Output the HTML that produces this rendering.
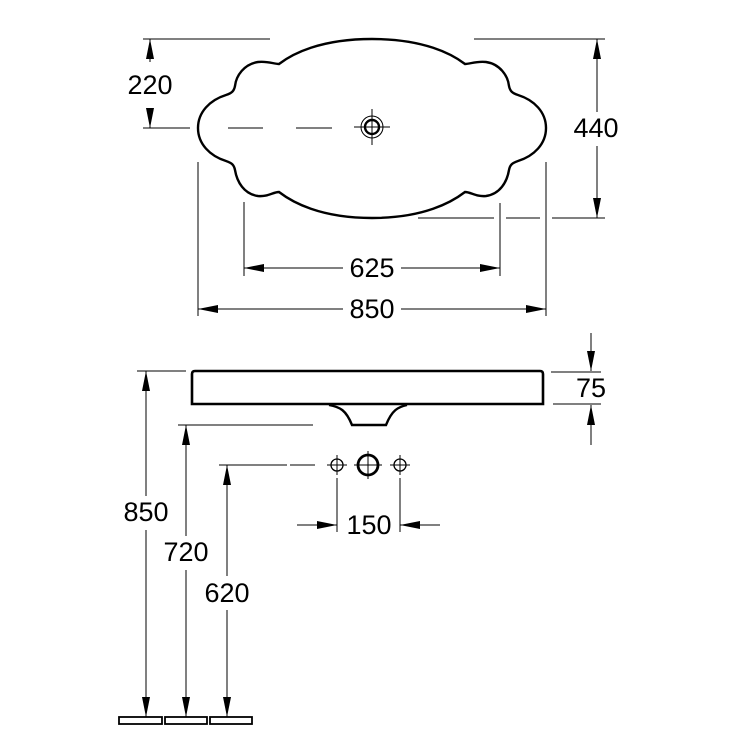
<!DOCTYPE html>
<html><head><style>body{margin:0;background:#fff}svg{display:block}text{font-family:"Liberation Sans",Arial,sans-serif;font-size:27px;fill:#000}</style></head><body>
<svg width="756" height="748" viewBox="0 0 756 748" xmlns="http://www.w3.org/2000/svg">
<defs>
<marker id="a" viewBox="0 0 20 8" refX="20" refY="4" markerWidth="20" markerHeight="8" markerUnits="userSpaceOnUse" orient="auto"><path d="M0,0 L20,4 L0,8 Z" fill="#000"/></marker>
</defs>
<g fill="none" stroke="#000">
<path stroke-width="2.4" d="M372,39 C320,39 292,54 279,64 C274,64 268,61 258,62 C244,64 236,76 235,86 C234,91 232,93 226,95 C210,100 198,112 198,128 C198,144 210,156 226,161 C232,163 234,165 235,170 C237,182 244,194 258,196 C268,197 273,192 279,192 C292,202 320,218 372,218 C424,218 452,202 465,192 C471,192 476,197 486,196 C500,194 507,182 509,170 C510,165 512,163 518,161 C534,156 546,144 546,128 C546,112 534,100 518,95 C512,93 510,91 509,86 C508,76 500,64 486,62 C476,61 470,64 465,64 C452,54 424,39 372,39 Z"/>
<circle cx="372" cy="127" r="7" stroke-width="2.4"/>
<circle cx="372" cy="127" r="11" stroke-width="1"/>
<path stroke-width="1" d="M354,127H390M372,109V145"/>
<path stroke-width="1" d="M180,128H190M228,128H263M296,128H332"/>
<path stroke-width="1" d="M143,39H270M143,128H190"/>
<path stroke-width="1" d="M150,62V39" marker-end="url(#a)"/>
<path stroke-width="1" d="M150,108V128" marker-end="url(#a)"/>
<path stroke-width="1" d="M474,39H605M418,218H494M506,218H540M552,218H605"/>
<path stroke-width="1" d="M597,112V39" marker-end="url(#a)"/>
<path stroke-width="1" d="M597,146V218" marker-end="url(#a)"/>
<path stroke-width="1" d="M244,202V276M500,203V276M198,162V316M546,162V316"/>
<path stroke-width="1" d="M343,268H244" marker-end="url(#a)"/>
<path stroke-width="1" d="M401,268H500" marker-end="url(#a)"/>
<path stroke-width="1" d="M343,309H198" marker-end="url(#a)"/>
<path stroke-width="1" d="M401,309H546" marker-end="url(#a)"/>
<path stroke-width="2.6" d="M195,371H540Q543,371 543,374V404H192V374Q192,371 195,371Z"/>
<path stroke-width="2.4" d="M329,405C340,407 346,410 352,425H386C392,410 398,407 407,405"/>
<path stroke-width="1" d="M551,372H601M553,404H601"/>
<path stroke-width="1" d="M591,333V371" marker-end="url(#a)"/>
<path stroke-width="1" d="M591,445V405" marker-end="url(#a)"/>
<path stroke-width="1" d="M137,371H186M178,425H313M219,465H287M290,465H315"/>
<path stroke-width="1" d="M146,496V371" marker-end="url(#a)"/>
<path stroke-width="1" d="M146,530V717" marker-end="url(#a)"/>
<path stroke-width="1" d="M186,536V425" marker-end="url(#a)"/>
<path stroke-width="1" d="M186,570V717" marker-end="url(#a)"/>
<path stroke-width="1" d="M227,576V465" marker-end="url(#a)"/>
<path stroke-width="1" d="M227,610V717" marker-end="url(#a)"/>
<rect x="119" y="717" width="43" height="7" stroke-width="1.8"/>
<rect x="165" y="717" width="42" height="7" stroke-width="1.8"/>
<rect x="210" y="717" width="42" height="7" stroke-width="1.8"/>
<circle cx="337" cy="465" r="6" stroke-width="1.3"/>
<circle cx="368" cy="465" r="10" stroke-width="2.8"/>
<circle cx="400" cy="465" r="6" stroke-width="1.3"/>
<path stroke-width="1" d="M327,465H347M337,455V475M354,465H382M368,451V479M390,465H410M400,455V475"/>
<path stroke-width="1" d="M337,478V532M400,478V532"/>
<path stroke-width="1" d="M297,525H337" marker-end="url(#a)"/>
<path stroke-width="1" d="M440,525H400" marker-end="url(#a)"/>
</g>
<g text-anchor="middle" dominant-baseline="central">
<text x="150" y="85">220</text>
<text x="596" y="128">440</text>
<text x="372" y="268">625</text>
<text x="372" y="309">850</text>
<text x="591" y="388">75</text>
<text x="146" y="512">850</text>
<text x="186" y="552">720</text>
<text x="227" y="593">620</text>
<text x="369" y="525">150</text>
</g>
</svg>
</body></html>
